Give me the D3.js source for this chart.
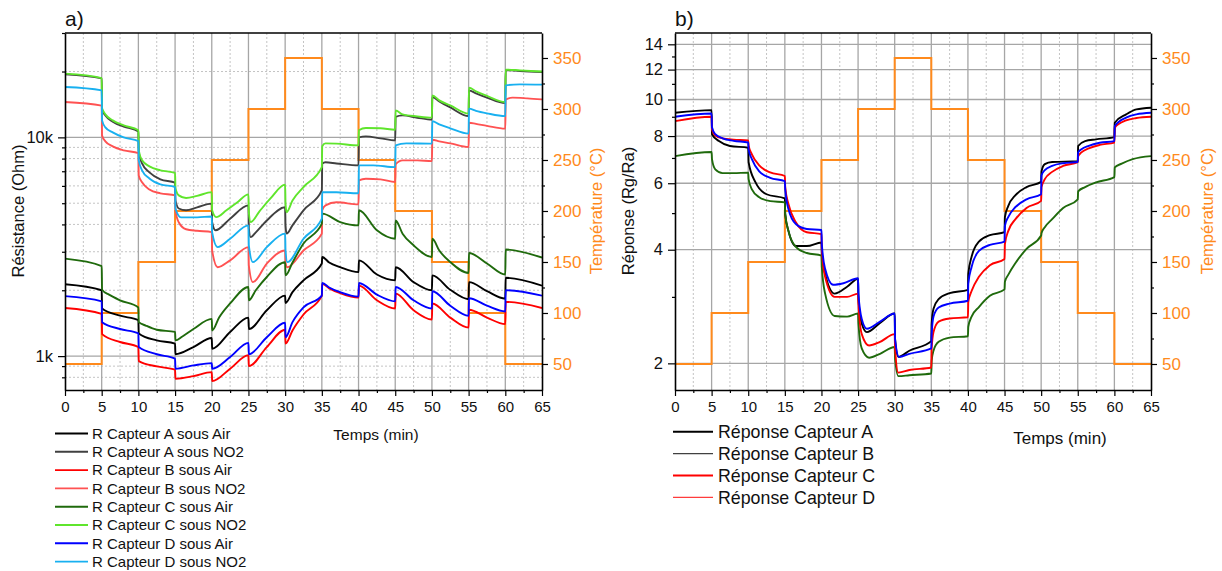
<!DOCTYPE html>
<html><head><meta charset="utf-8">
<script src="https://cdn.jsdelivr.net/npm/d3@7"></script>
<style>
body{margin:0;background:#fff;}
svg text{font-family:"Liberation Sans",Arial,sans-serif;}
</style>
</head><body>
<svg id="chart" width="1222" height="571"></svg>
<script>
// ---------- DATA ----------
const timeTicks = [0,5,10,15,20,25,30,35,40,45,50,55,60,65];
const timeMinorTicks = [2.5,7.5,12.5,17.5,22.5,27.5,32.5,37.5,42.5,47.5,52.5,57.5,62.5];
const tempTicks = [50,100,150,200,250,300,350];
const tempMinorTicks = [75,125,175,225,275,325];
const resMajorTicks = [1000,10000];
const resMinorTicks = [800,900,2000,3000,4000,5000,6000,7000,8000,9000,20000,30000];
const respMajorTicks = [2,4,6,8,10,12,14];
const respMinorTicks = [3,5,7,9,11,13];

// temperature program: start time of each 5 min step and setpoint (°C)
const tempStepStart = [0,5,10,15,20,25,30,35,40,45,50,55,60];
const tempStepValue = [50,100,150,200,250,300,350,300,250,200,150,100,50];

// panel a : resistance (Ohm) [time(min), R]
const rA_air = [[0,2130],[5,2000],[5.05,1650],[7.5,1530],[10,1460],[10.05,1270],[12.5,1180],[15,1140],[15.05,1020],[17.5,1100],[20,1210],[20.05,1080],[22.5,1290],[25,1500],[25.05,1330],[27.5,1620],[30,1890],[30.05,1750],[31,1960],[32.5,2220],[35,2650],[35.05,2840],[36,2680],[37.5,2550],[40,2420],[40.05,2740],[42.5,2360],[45,2220],[45.05,2550],[47.5,2180],[50,2000],[50.05,2340],[52.5,2010],[55,1820],[55.05,2180],[57.5,1980],[60,1830],[60.05,2280],[65,2100]];
const rA_no2 = [[0,19400],[5,18600],[5.05,13400],[5.5,12600],[6.5,11800],[8,11200],[10,10650],[10.05,8540],[10.5,7600],[11.5,6920],[13,6430],[15,6210],[15.05,5150],[15.5,4730],[16.5,4640],[18,4790],[20,4980],[20.05,4090],[20.5,3760],[22.5,4250],[25,4890],[25.05,3840],[25.3,3500],[26,3680],[27.5,4170],[30,4790],[30.05,3960],[30.2,3630],[31,3960],[32.5,4640],[35,5720],[35.05,7580],[35.5,7690],[37,7600],[40,7450],[40.05,10000],[41,10100],[43,9900],[45,9690],[45.05,12400],[46,12600],[48,12300],[50,12050],[50.05,15300],[51,14600],[52.5,13700],[55,12500],[55.05,16400],[56,15900],[57.5,15200],[60,14350],[60.05,20300],[62,20100],[65,19900]];
const rB_air = [[0,1660],[5,1560],[5.05,1260],[7.5,1160],[10,1100],[10.05,949],[12.5,897],[15,867],[15.05,788],[17.5,810],[20,845],[20.05,769],[22.5,876],[25,1010],[25.05,900],[27.5,1100],[30,1320],[30.05,1140],[31,1310],[32.5,1550],[35,1890],[35.05,2140],[36,2040],[37.5,1940],[40,1850],[40.05,2100],[42.5,1800],[45,1650],[45.05,1930],[47.5,1620],[50,1470],[50.05,1740],[52.5,1500],[55,1350],[55.05,1630],[57.5,1500],[60,1400],[60.05,1770],[65,1660]];
const rB_no2 = [[0,14500],[5,13960],[5.05,10210],[5.5,9590],[6.5,9100],[8,8720],[10,8480],[10.05,6700],[10.5,6230],[11.5,5780],[13,5550],[15,5430],[15.05,4640],[15.5,4090],[16.5,3800],[18,3740],[20,3690],[20.05,3040],[20.8,2550],[22.5,2740],[25,3150],[25.05,2600],[25.6,2180],[27.5,2650],[30,3040],[30.05,2680],[30.3,2550],[32.5,3040],[35,3630],[35.05,4640],[35.5,4890],[37,5050],[40,4940],[40.05,6360],[41,6470],[43,6430],[45,6250],[45.05,7520],[46,7850],[48,7850],[50,7790],[50.05,9760],[51,9590],[52.5,9390],[55,9030],[55.05,11670],[56,11530],[57.5,11290],[60,10960],[60.05,14870],[61,15190],[63,15080],[65,14920]];
const rC_air = [[0,2790],[5,2580],[5.05,2010],[6,1910],[7.5,1800],[10,1670],[10.05,1430],[11,1380],[12.5,1320],[15,1290],[15.05,1180],[16,1230],[17.5,1330],[20,1480],[20.05,1310],[21,1500],[22.5,1740],[25,2070],[25.05,1800],[26,2000],[27.5,2300],[30,2690],[30.05,2340],[31,2680],[32.5,3270],[35,4030],[35.05,4480],[37.5,4100],[40,3960],[40.05,4640],[42.5,3760],[45,3440],[45.05,4170],[46,3630],[47.5,3210],[50,2840],[50.05,3440],[51,3040],[52.5,2690],[55,2400],[55.05,2960],[57.5,2650],[60,2360],[60.05,3070],[65,2820]];
const rC_no2 = [[0,19560],[5,18670],[5.05,13570],[5.5,12740],[6.5,11960],[8,11340],[10,10770],[10.05,8720],[10.5,7850],[11.5,7370],[13,7070],[15,6880],[15.05,5850],[15.5,5430],[16.5,5280],[18,5400],[20,5620],[20.05,4640],[20.6,4320],[22,4640],[23.5,5050],[25,5490],[25.05,4540],[25.3,4100],[26.5,4590],[28,5260],[30,6080],[30.05,4990],[30.2,4550],[31,5150],[32.5,5930],[35,7310],[35.05,9100],[35.5,9390],[37,9360],[40,9190],[40.05,10770],[41,11030],[43,11000],[45,10830],[45.05,13290],[46,12740],[48,12470],[50,12310],[50.05,15560],[51,14760],[52.5,14010],[55,12840],[55.05,16880],[56,16230],[57.5,15470],[60,14500],[60.05,20400],[62,20250],[65,20000]];
const rD_air = [[0,1880],[5,1780],[5.05,1430],[7.5,1330],[10,1270],[10.05,1100],[12.5,1020],[15,973],[15.05,876],[17.5,907],[20,929],[20.05,876],[22.5,990],[25,1150],[25.05,1020],[27.5,1220],[30,1420],[30.05,1220],[31,1430],[32.5,1670],[35,1890],[35.05,2160],[36,2060],[37.5,1960],[40,1870],[40.05,2160],[42.5,1910],[45,1780],[45.05,2070],[47.5,1800],[50,1650],[50.05,1980],[52.5,1700],[55,1530],[55.05,1840],[57.5,1700],[60,1600],[60.05,2000],[65,1890]];
const rD_no2 = [[0,16980],[5,16400],[5.05,11960],[5.5,11110],[6.5,10540],[8,10000],[10,9620],[10.05,7850],[10.5,7070],[11.5,6490],[13,6100],[15,5930],[15.05,4730],[15.8,4310],[18,4310],[20,4350],[20.05,3680],[20.8,3150],[22.5,3440],[25,3960],[25.05,3210],[25.6,2690],[27.5,3150],[30,3630],[30.05,3040],[30.3,2690],[32.5,3440],[35,4250],[35.05,5620],[37,5610],[40,5550],[40.05,7450],[42,7450],[45,7310],[45.05,9190],[46.5,9390],[50,9360],[50.05,11870],[51,11470],[52.5,11000],[55,10400],[55.05,13530],[56,13220],[57.5,12880],[60,12510],[60.05,17290],[62,17470],[65,17420]];

// panel b : response Rg/Ra [time(min), ratio]
const respA = [[0,9.22],[5,9.37],[5.05,8.09],[6,7.76],[7.5,7.53],[10,7.45],[10.05,6.82],[11,6.03],[12.5,5.61],[15,5.47],[15.05,4.97],[15.5,4.48],[16.5,4.09],[18,4.09],[20,4.18],[20.05,3.90],[20.5,3.45],[21.8,3.06],[23.5,3.19],[25,3.35],[25.05,2.96],[25.5,2.55],[26.2,2.42],[28,2.56],[30,2.71],[30.05,2.32],[30.5,2.08],[32,2.16],[35,2.29],[35.05,2.55],[35.3,2.79],[36,2.96],[37.5,3.07],[40,3.13],[40.05,3.45],[40.5,3.83],[41.5,4.20],[43,4.37],[45,4.45],[45.05,4.88],[45.5,5.22],[46.5,5.58],[48,5.86],[50,6.05],[50.05,6.45],[50.5,6.74],[51.5,6.83],[55,6.86],[55.05,7.53],[56,7.76],[57.5,7.84],[60,7.95],[60.05,8.68],[61.6,9.13],[63,9.41],[65,9.51]];
const respB = [[0,9.00],[5,9.18],[5.05,8.44],[5.5,8.09],[6.5,7.89],[8,7.77],[10,7.69],[10.05,7.38],[10.5,6.95],[11.5,6.45],[13,6.20],[15,6.08],[15.05,5.78],[15.5,5.12],[16.5,4.68],[18,4.54],[20,4.51],[20.05,4.14],[20.5,3.56],[21.6,3.23],[23,3.26],[25,3.36],[25.05,3.06],[25.5,2.62],[26.2,2.47],[28,2.58],[30,2.71],[30.05,2.32],[30.6,2.08],[32,2.12],[35,2.19],[35.05,2.39],[35.3,2.66],[36,2.81],[37.5,2.88],[40,2.93],[40.05,3.25],[40.5,3.60],[41.5,3.97],[43,4.12],[45,4.20],[45.05,4.63],[45.5,4.88],[46.5,5.19],[48,5.44],[50,5.61],[50.05,6.30],[50.5,6.50],[51.5,6.67],[53,6.78],[55,6.83],[55.05,7.24],[55.5,7.38],[56.5,7.54],[58,7.68],[60,7.76],[60.05,8.50],[61.6,8.95],[63,9.13],[65,9.22]];
const respC = [[0,8.76],[5,9.00],[5.05,8.33],[5.5,8.03],[6.5,7.89],[8,7.83],[10,7.79],[10.05,7.56],[10.5,7.16],[11.5,6.69],[13,6.41],[15,6.27],[15.05,5.86],[15.5,5.28],[16.5,4.73],[18,4.45],[20,4.40],[20.05,4.02],[20.5,3.39],[21.8,3.00],[23.5,3.00],[25,3.06],[25.05,2.88],[25.5,2.39],[26.5,2.23],[28,2.28],[30,2.39],[30.05,2.19],[30.5,1.89],[32,1.92],[35,1.95],[35.05,2.19],[35.3,2.42],[36,2.58],[37.5,2.63],[40,2.65],[40.05,2.91],[40.5,3.11],[41.5,3.39],[43,3.64],[45,3.78],[45.05,4.14],[45.5,4.48],[46.5,4.82],[48,5.16],[50,5.39],[50.05,5.86],[50.5,6.15],[51.5,6.43],[53,6.67],[55,6.82],[55.05,7.07],[55.5,7.24],[56.5,7.42],[58,7.58],[60,7.69],[60.05,8.42],[61.6,8.80],[63,8.93],[65,9.00]];
const respD = [[0,7.08],[5,7.26],[5.05,6.95],[5.5,6.53],[6.5,6.38],[8,6.38],[10,6.40],[10.05,6.15],[10.5,5.78],[11.5,5.51],[13,5.38],[15,5.34],[15.05,4.97],[15.5,4.48],[16.5,4.07],[18,3.92],[20,3.86],[20.05,3.60],[20.5,3.06],[21.8,2.67],[23.5,2.66],[25,2.71],[25.05,2.55],[25.5,2.19],[26.5,2.07],[28,2.12],[30,2.21],[30.05,2.06],[30.5,1.85],[32,1.86],[35,1.88],[35.05,2.03],[35.3,2.16],[36,2.28],[37.5,2.34],[40,2.36],[40.05,2.50],[40.5,2.66],[41.5,2.82],[43,3.02],[45,3.14],[45.05,3.29],[45.5,3.43],[46.5,3.69],[48,4.02],[50,4.36],[50.05,4.43],[50.5,4.59],[51.5,4.82],[53,5.16],[55,5.44],[55.05,5.71],[56,5.86],[57.5,6.03],[60,6.23],[60.05,6.61],[61,6.76],[62.5,6.95],[65,7.08]];

const seriesA = [
  {name:"R Capteur A sous Air", data:rA_air, color:"#000000"},
  {name:"R Capteur A sous NO2", data:rA_no2, color:"#404040"},
  {name:"R Capteur B sous Air", data:rB_air, color:"#ff0000"},
  {name:"R Capteur B sous NO2", data:rB_no2, color:"#ff5252"},
  {name:"R Capteur C sous Air", data:rC_air, color:"#1f6a0c"},
  {name:"R Capteur C sous NO2", data:rC_no2, color:"#5fe52c"},
  {name:"R Capteur D sous Air", data:rD_air, color:"#0000ff"},
  {name:"R Capteur D sous NO2", data:rD_no2, color:"#18b0f0"}
];
const seriesB = [
  {name:"Réponse Capteur A", data:respA, color:"#000000"},
  {name:"Réponse Capteur D", data:respD, color:"#1f6a0c"},
  {name:"Réponse Capteur C", data:respC, color:"#ff0000"},
  {name:"Réponse Capteur B", data:respB, color:"#0000ff"}
];
const legendB = [
  {name:"Réponse Capteur A", color:"#000000", w:2},
  {name:"Réponse Capteur B", color:"#404040", w:1.4},
  {name:"Réponse Capteur C", color:"#ff0000", w:2},
  {name:"Réponse Capteur D", color:"#ff3c3c", w:1.4}
];

// ---------- DRAW ----------
const ORANGE = "#ff8a1c";
const GRID = "#a6a6a6", GRIDMINOR = "#c4c4c4";
const svg = d3.select("#chart");
const Y_TOP = 33, Y_BOT = 390;

const tempPoints = tempStepStart.map((t,i)=>[t,tempStepValue[i]]).concat([[65,tempStepValue[tempStepValue.length-1]]]);

function drawPanel(cfg){
  const g = svg.append("g");
  const x = d3.scaleLinear().domain([0,65]).range([cfg.left,cfg.right]);
  const y = d3.scaleLog().domain(cfg.yDomain).range([Y_BOT,Y_TOP]);
  const yT = d3.scaleLinear().domain([24.5,374.5]).range([Y_BOT,Y_TOP]);

  const clipId = "clip"+cfg.id;
  svg.append("defs").append("clipPath").attr("id",clipId)
    .append("rect").attr("x",cfg.left).attr("y",Y_TOP).attr("width",cfg.right-cfg.left).attr("height",Y_BOT-Y_TOP);

  // grid
  const grid = g.append("g");
  grid.selectAll(".vmin").data(timeMinorTicks).join("line")
    .attr("x1",d=>x(d)).attr("x2",d=>x(d)).attr("y1",Y_TOP).attr("y2",Y_BOT)
    .attr("stroke",GRIDMINOR).attr("stroke-width",1).attr("stroke-dasharray","2,2");
  if(cfg.hMinor){
    grid.selectAll(".hmin").data(cfg.hMinor).join("line")
      .attr("x1",cfg.left).attr("x2",cfg.right).attr("y1",d=>y(d)).attr("y2",d=>y(d))
      .attr("stroke",GRIDMINOR).attr("stroke-width",1).attr("stroke-dasharray","2,2");
  }
  grid.selectAll(".vmaj").data(timeTicks.filter(d=>d>0&&d<65)).join("line")
    .attr("x1",d=>x(d)).attr("x2",d=>x(d)).attr("y1",Y_TOP).attr("y2",Y_BOT)
    .attr("stroke",GRID).attr("stroke-width",1.3);
  grid.selectAll(".hmaj").data(cfg.hMajor).join("line")
    .attr("x1",cfg.left).attr("x2",cfg.right).attr("y1",d=>y(d)).attr("y2",d=>y(d))
    .attr("stroke",GRID).attr("stroke-width",1.3);

  const plot = g.append("g").attr("clip-path",`url(#${clipId})`);
  // temperature
  plot.append("path").datum(tempPoints)
    .attr("d",d3.line().x(d=>x(d[0])).y(d=>yT(d[1])).curve(d3.curveStepAfter))
    .attr("fill","none").attr("stroke",ORANGE).attr("stroke-width",2);
  // series
  const line = d3.line().x(d=>x(d[0])).y(d=>y(d[1])).curve(d3.curveMonotoneX);
  cfg.series.forEach(s=>{
    plot.append("path").datum(s.data).attr("d",line)
      .attr("fill","none").attr("stroke",s.color).attr("stroke-width",1.9)
      .attr("stroke-linejoin","round");
  });

  // axes
  const styleAxis = (sel,fs,col)=>{
    sel.select(".domain").attr("stroke","#000").attr("stroke-width",1.6);
    sel.selectAll(".tick line").attr("stroke","#000").attr("stroke-width",1.2);
    sel.selectAll("text").attr("font-size",fs).attr("fill",col||"#111")
      .attr("font-family",'"Liberation Sans",Arial,sans-serif');
  };
  const bx = g.append("g").attr("transform",`translate(0,${Y_BOT})`)
    .call(d3.axisBottom(x).tickValues(timeTicks).tickSize(6).tickPadding(5).tickSizeOuter(0));
  styleAxis(bx,15);
  const bxm = g.append("g").attr("transform",`translate(0,${Y_BOT})`)
    .call(d3.axisBottom(x).tickValues(timeMinorTicks).tickSize(3).tickFormat("").tickSizeOuter(0));
  styleAxis(bxm,15); bxm.select(".domain").remove();

  const ly = g.append("g").attr("transform",`translate(${cfg.left},0)`)
    .call(d3.axisLeft(y).tickValues(cfg.yMajor).tickFormat(cfg.yFormat).tickSize(7).tickPadding(5).tickSizeOuter(0));
  styleAxis(ly,cfg.yFont);
  const lym = g.append("g").attr("transform",`translate(${cfg.left},0)`)
    .call(d3.axisLeft(y).tickValues(cfg.yMinor).tickSize(3).tickFormat("").tickSizeOuter(0));
  styleAxis(lym,16); lym.select(".domain").remove();

  const ry = g.append("g").attr("transform",`translate(${cfg.right},0)`)
    .call(d3.axisRight(yT).tickValues(tempTicks).tickSize(6).tickPadding(5).tickSizeOuter(0));
  styleAxis(ry,17,ORANGE);
  const rym = g.append("g").attr("transform",`translate(${cfg.right},0)`)
    .call(d3.axisRight(yT).tickValues(tempMinorTicks).tickSize(3).tickFormat("").tickSizeOuter(0));
  styleAxis(rym,17); rym.select(".domain").remove();

  // top frame
  g.append("line").attr("x1",cfg.left).attr("x2",cfg.right).attr("y1",Y_TOP).attr("y2",Y_TOP)
    .attr("stroke","#000").attr("stroke-width",1.6);

  // titles
  g.append("text").attr("x",cfg.left).attr("y",26).attr("font-size",21).attr("fill","#111").text(cfg.tag);
  g.append("text").attr("transform",`translate(${cfg.yTitleX},211) rotate(-90)`)
    .attr("text-anchor","middle").attr("font-size",16.5).attr("fill","#111").text(cfg.yTitle);
  g.append("text").attr("transform",`translate(${cfg.tTitleX},211) rotate(-90)`)
    .attr("text-anchor","middle").attr("font-size",16.5).attr("fill",ORANGE).text("Température (°C)");
  g.append("text").attr("x",cfg.xTitleX).attr("y",cfg.xTitleY).attr("text-anchor","middle")
    .attr("font-size",cfg.xTitleFont).attr("fill","#111").text("Temps (min)");

  // legend
  const lg = g.append("g");
  cfg.legend.forEach((s,i)=>{
    const yy = cfg.legY + i*cfg.legStep;
    lg.append("line").attr("x1",cfg.legX1).attr("x2",cfg.legX2).attr("y1",yy).attr("y2",yy)
      .attr("stroke",s.color).attr("stroke-width",s.w||1.9);
    lg.append("text").attr("x",cfg.legTextX).attr("y",yy).attr("dy","0.35em")
      .attr("font-size",cfg.legFont).attr("fill","#111").text(s.name);
  });
}

drawPanel({
  id:"a", left:65, right:542, yDomain:[700,30000],
  hMajor:resMajorTicks, hMinor:resMinorTicks.filter(d=>d<30000),
  yMajor:resMajorTicks, yMinor:resMinorTicks, yFormat:d=>(d/1000)+"k", yFont:16.5,
  series:seriesA, tag:"a)", yTitle:"Résistance (Ohm)", yTitleX:24, tTitleX:602,
  xTitleX:376, xTitleY:440, xTitleFont:15.5,
  legend:seriesA, legX1:55, legX2:88, legTextX:92, legY:433.5, legStep:18.3, legFont:15
});
drawPanel({
  id:"b", left:675, right:1151, yDomain:[1.7,15],
  hMajor:respMajorTicks, hMinor:null,
  yMajor:respMajorTicks, yMinor:respMinorTicks, yFormat:d3.format("d"), yFont:16.5,
  series:seriesB, tag:"b)", yTitle:"Réponse (Rg/Ra)", yTitleX:634, tTitleX:1213,
  xTitleX:1060, xTitleY:444, xTitleFont:17,
  legend:legendB, legX1:673, legX2:713, legTextX:718, legY:431.7, legStep:21.9, legFont:17.8
});
</script>
</body></html>
